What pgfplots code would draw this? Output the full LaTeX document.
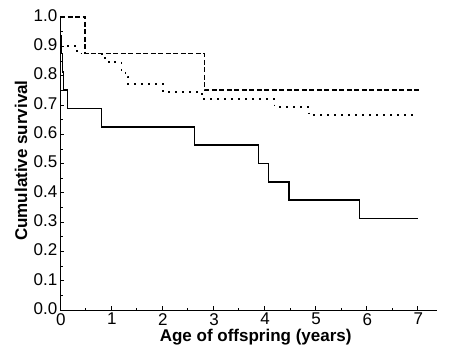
\documentclass[border=0pt]{standalone}
\usepackage{fontspec}
\setmainfont{Liberation Sans}
\usepackage{pgfplots}
\pgfplotsset{compat=1.18}
\begin{document}
\begin{tikzpicture}
\path[use as bounding box] (-60pt,-35pt) rectangle (392pt,310pt);
\begin{axis}[
  scale only axis,
  width=377pt, height=293pt,
  xmin=0, xmax=7.38, ymin=0, ymax=1.0,
  axis lines*=left,
  clip=false,
  tick align=inside,
  major tick length=4pt, minor tick length=2.5pt,
  xtick={0,1,...,7},
  ytick={0,0.1,...,1.0},
  minor x tick num=1, minor y tick num=1,
  axis line style={line width=0.8pt},
  tick style={line width=0.6pt, black},
  /pgf/number format/assume math mode=true,
  yticklabel style={/pgf/number format/.cd, fixed, fixed zerofill, precision=1, /tikz/.cd, anchor=east, inner sep=0pt, xshift=-2.5pt, yshift=1.5pt},
  xticklabel style={anchor=north, inner sep=0pt, yshift=-3pt, xshift=0.8pt},
  ticklabel style={font=\fontsize{17}{19}\selectfont},
  label style={font=\fontsize{17}{20}\selectfont\bfseries},
  xlabel={Age of offspring (years)},
  ylabel={Cumulative survival},
  xlabel style={at={(axis description cs:0.519,0)}, anchor=base, yshift=-31pt, inner sep=0pt},
  ylabel style={at={(axis description cs:-0.0875,0.51)}, anchor=base, inner sep=0pt},
]
% solid
\addplot[const plot, black, line width=1.5pt] coordinates {
(0,0.9375) (0.03,0.875) (0.05,0.8125) (0.07,0.75) (0.15,0.6875) (0.81,0.625)
(2.63,0.5625) (3.89,0.5) (4.08,0.4375) (4.48,0.375) (5.86,0.3125) (7.0,0.3125)};
% dashed
\addplot[const plot, black, line width=1.5pt, dash pattern=on 5pt off 2.5pt] coordinates {
(0,1.0) (0.49,0.875) (2.83,0.75) (7.03,0.75)};
% dotted
\addplot[const plot, black, line width=1.6pt, dash pattern=on 1.6pt off 5.4pt] coordinates {
(0,0.9) (0.33,0.875) (0.82,0.86) (0.95,0.847) (1.2,0.82) (1.28,0.797) (1.33,0.771)
(2.02,0.743) (2.78,0.72) (4.2,0.692) (4.87,0.665) (6.97,0.665)};
\end{axis}
\end{tikzpicture}
\end{document}
